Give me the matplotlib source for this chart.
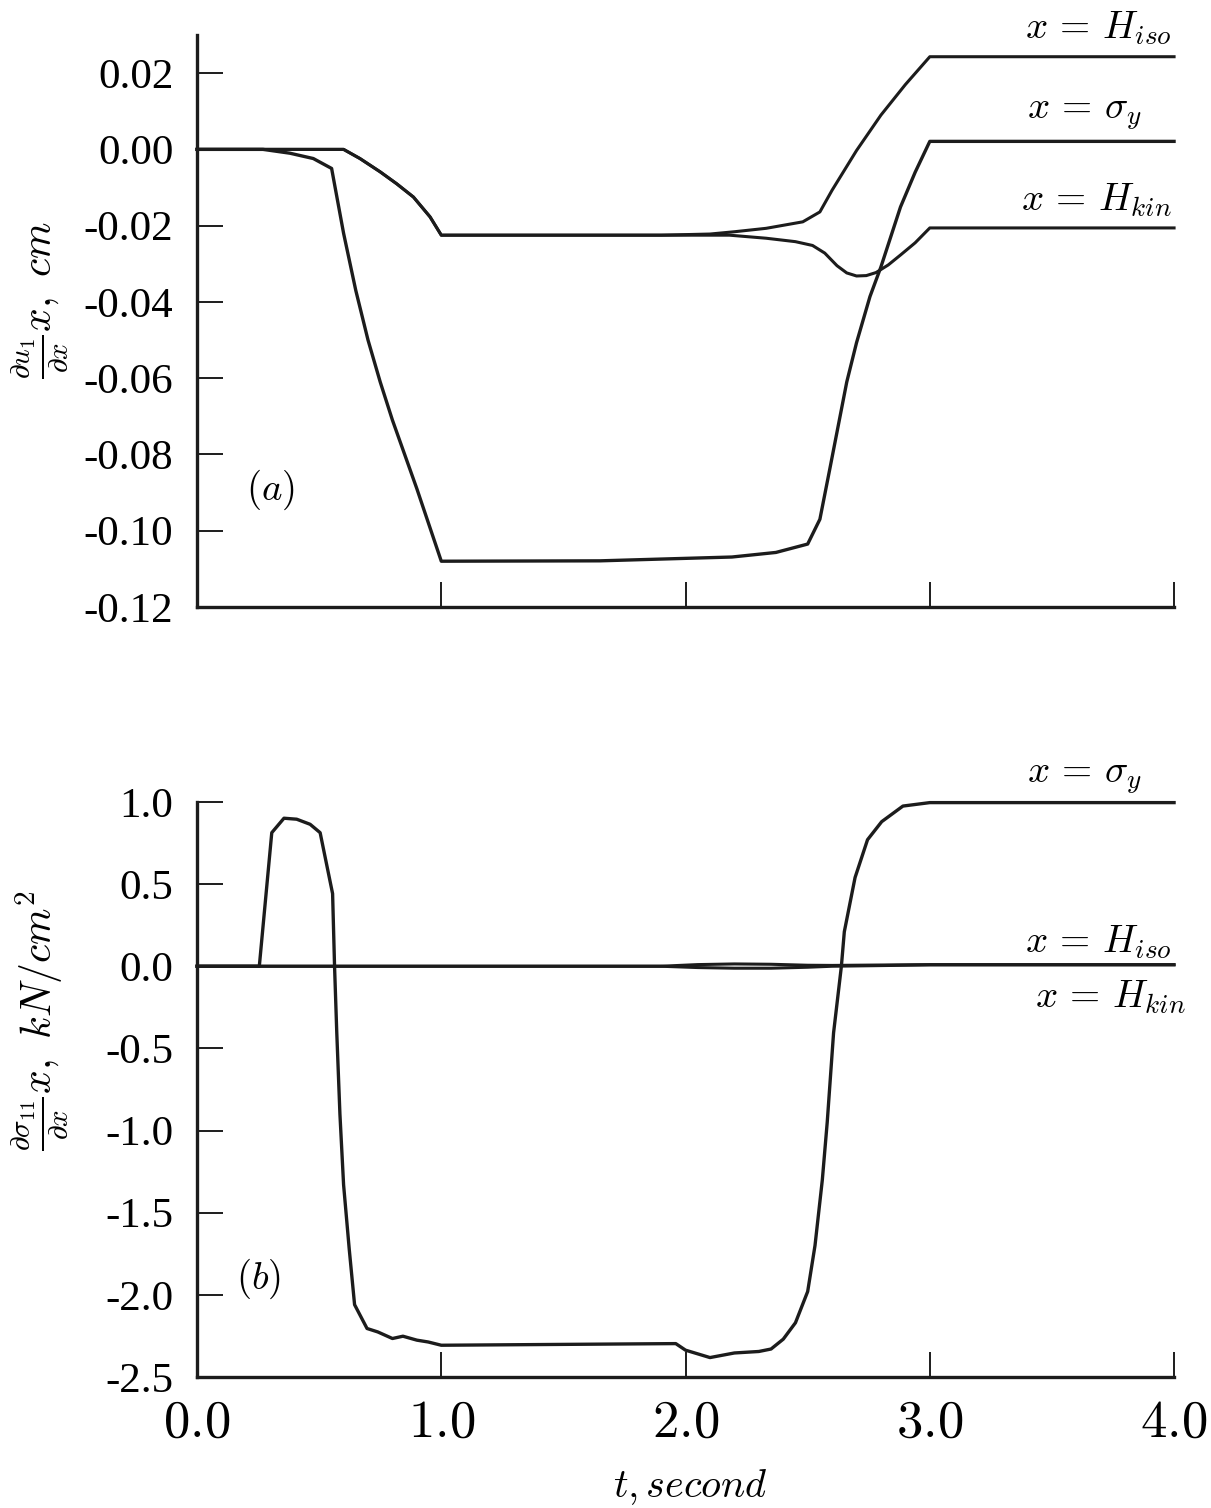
import matplotlib
matplotlib.use("Agg")
import matplotlib.pyplot as plt

plt.rcParams['mathtext.fontset'] = 'cm'
plt.rcParams['font.family'] = ['Liberation Serif', 'DejaVu Serif']

# (a) gradient of displacement, cm
t_iso_a = [0.0, 0.6, 0.667, 0.75, 0.817, 0.886, 0.954, 1.0, 1.9, 2.1, 2.2, 2.33, 2.48, 2.55, 2.6, 2.7, 2.8, 2.9, 3.0, 4.0]
v_iso_a = [0.0, 0.0, -0.0024, -0.0059, -0.009, -0.0125, -0.0177, -0.0225, -0.0225, -0.0222, -0.0216, -0.0207, -0.019,
           -0.0164, -0.0107, -0.0003, 0.009, 0.017, 0.0243, 0.0243]
t_kin_a = [0.0, 0.6, 0.667, 0.75, 0.817, 0.886, 0.954, 1.0, 2.18, 2.33, 2.45, 2.52, 2.57, 2.62, 2.66, 2.7, 2.74, 2.78,
           2.83, 2.88, 2.94, 3.0, 4.0]
v_kin_a = [0.0, 0.0, -0.0024, -0.0059, -0.009, -0.0125, -0.0177, -0.0225, -0.0225, -0.0233, -0.0242, -0.0252, -0.0272,
           -0.0305, -0.0324, -0.0332, -0.0331, -0.0323, -0.0303, -0.0277, -0.0245, -0.0206, -0.0206]
t_sy_a = [0.0, 0.27, 0.38, 0.476, 0.551, 0.6, 0.65, 0.7, 0.75, 0.8, 0.85, 0.9, 0.95, 1.0, 1.65, 2.19, 2.37, 2.5, 2.55,
          2.59, 2.66, 2.7, 2.755, 2.8, 2.88, 2.94, 3.0, 4.0]
v_sy_a = [0.0, 0.0, -0.001, -0.0024, -0.005, -0.022, -0.037, -0.05, -0.061, -0.071, -0.08, -0.089, -0.0985, -0.108,
          -0.1079, -0.1069, -0.1057, -0.1035, -0.097, -0.084, -0.061, -0.0507, -0.0386, -0.0308, -0.0151, -0.006,
          0.0021, 0.0021]

# (b) gradient of stress, kN/cm^2
t_sy_b = [0.0, 0.255, 0.306, 0.356, 0.408, 0.463, 0.504, 0.555, 0.563, 0.572, 0.585, 0.6, 0.623, 0.645, 0.696, 0.74,
          0.8, 0.843, 0.9, 0.946, 1.0, 1.96, 2.0, 2.1, 2.2, 2.3, 2.35, 2.4, 2.45, 2.5, 2.53, 2.56, 2.58, 2.606, 2.638,
          2.65, 2.694, 2.745, 2.803, 2.89, 3.0, 4.0]
v_sy_b = [0.0, 0.0, 0.813, 0.901, 0.895, 0.864, 0.813, 0.442, 0.0, -0.4, -0.9, -1.33, -1.72, -2.06, -2.205, -2.226,
          -2.266, -2.252, -2.276, -2.287, -2.307, -2.297, -2.337, -2.382, -2.354, -2.345, -2.33, -2.27, -2.17, -1.98,
          -1.7, -1.3, -0.95, -0.406, 0.0, 0.21, 0.54, 0.77, 0.88, 0.975, 0.996, 0.996]
t_iso_b = [0.0, 1.9, 2.05, 2.2, 2.35, 2.5, 2.6, 3.0, 4.0]
v_iso_b = [0.0, 0.0, 0.01, 0.014, 0.012, 0.006, 0.005, 0.01, 0.01]
t_kin_b = [0.0, 1.9, 2.05, 2.2, 2.35, 2.5, 2.6, 3.0, 4.0]
v_kin_b = [0.0, 0.0, -0.008, -0.012, -0.012, -0.006, 0.0, 0.008, 0.008]

x_ticks = [0.0, 1.0, 2.0, 3.0, 4.0]
x_ticklabels = [r'$0.0$', r'$1.0$', r'$2.0$', r'$3.0$', r'$4.0$']
ya_ticks = [0.02, 0.0, -0.02, -0.04, -0.06, -0.08, -0.10, -0.12]
ya_ticklabels = ['0.02', '0.00', '-0.02', '-0.04', '-0.06', '-0.08', '-0.10', '-0.12']
yb_ticks = [1.0, 0.5, 0.0, -0.5, -1.0, -1.5, -2.0, -2.5]
yb_ticklabels = ['1.0', '0.5', '0.0', '-0.5', '-1.0', '-1.5', '-2.0', '-2.5']

ink = '#1c1c1c'
fig = plt.figure(figsize=(12.11, 15.08), dpi=100)
ax1 = fig.add_axes([0.1627, 0.5975, 0.8068, 0.3793])
ax2 = fig.add_axes([0.1627, 0.0869, 0.8068, 0.3813])

for ax in (ax1, ax2):
    for side in ('top', 'right'):
        ax.spines[side].set_visible(False)
    for side in ('left', 'bottom'):
        ax.spines[side].set_linewidth(2.4)
        ax.spines[side].set_color(ink)
    ax.set_xlim(0, 4.0)
    ax.set_xticks(x_ticks)
    ax.tick_params(axis='both', direction='in', color=ink, width=1.4)
    ax.tick_params(axis='x', length=18, pad=16)
    ax.tick_params(axis='y', length=19, pad=17, labelsize=31)

# top panel
ax1.plot(t_iso_a, v_iso_a, color=ink, lw=2.2, clip_on=False)
ax1.plot(t_kin_a, v_kin_a, color=ink, lw=2.2, clip_on=False)
ax1.plot(t_sy_a, v_sy_a, color=ink, lw=2.4, clip_on=False)
ax1.set_ylim(-0.12, 0.03)
ax1.set_yticks(ya_ticks)
ax1.set_yticklabels(ya_ticklabels)
ax1.set_xticklabels([])
ax1.text(3.99, 0.0318, r'$x\,=\,H_{iso}$', ha='right', va='center', fontsize=28)
ax1.text(3.87, 0.0094, r'$x\,=\,\sigma_y$', ha='right', va='center', fontsize=28)
ax1.text(3.99, -0.0133, r'$x\,=\,H_{kin}$', ha='right', va='center', fontsize=28)
ax1.text(0.30, -0.0892, r'$(a)$', ha='center', va='center', fontsize=28)

# bottom panel
ax2.plot(t_iso_b, v_iso_b, color=ink, lw=2.2, clip_on=False)
ax2.plot(t_kin_b, v_kin_b, color=ink, lw=2.2, clip_on=False)
ax2.plot(t_sy_b, v_sy_b, color=ink, lw=2.4, clip_on=False)
ax2.set_ylim(-2.5, 1.0)
ax2.set_yticks(yb_ticks)
ax2.set_yticklabels(yb_ticklabels)
ax2.set_xticklabels(x_ticklabels, fontsize=38)
ax2.text(3.87, 1.146, r'$x\,=\,\sigma_y$', ha='right', va='center', fontsize=28)
ax2.text(3.99, 0.146, r'$x\,=\,H_{iso}$', ha='right', va='center', fontsize=28)
ax2.text(4.05, -0.19, r'$x\,=\,H_{kin}$', ha='right', va='center', fontsize=28)
ax2.text(0.25, -1.90, r'$(b)$', ha='center', va='center', fontsize=28)

fig.text(40 / 1211, 1 - 300 / 1508, r'$\frac{\partial u_1}{\partial x}x,\ cm$',
         rotation=90, ha='center', va='center', fontsize=30)
fig.text(40 / 1211, 1 - 1020 / 1508, r'$\frac{\partial \sigma_{11}}{\partial x}x,\ kN/cm^2$',
         rotation=90, ha='center', va='center', fontsize=30)
fig.text(690 / 1211, 1 - 1487 / 1508, r'$t, second$', ha='center', va='center', fontsize=29)

fig.savefig('out.png', dpi=100)
